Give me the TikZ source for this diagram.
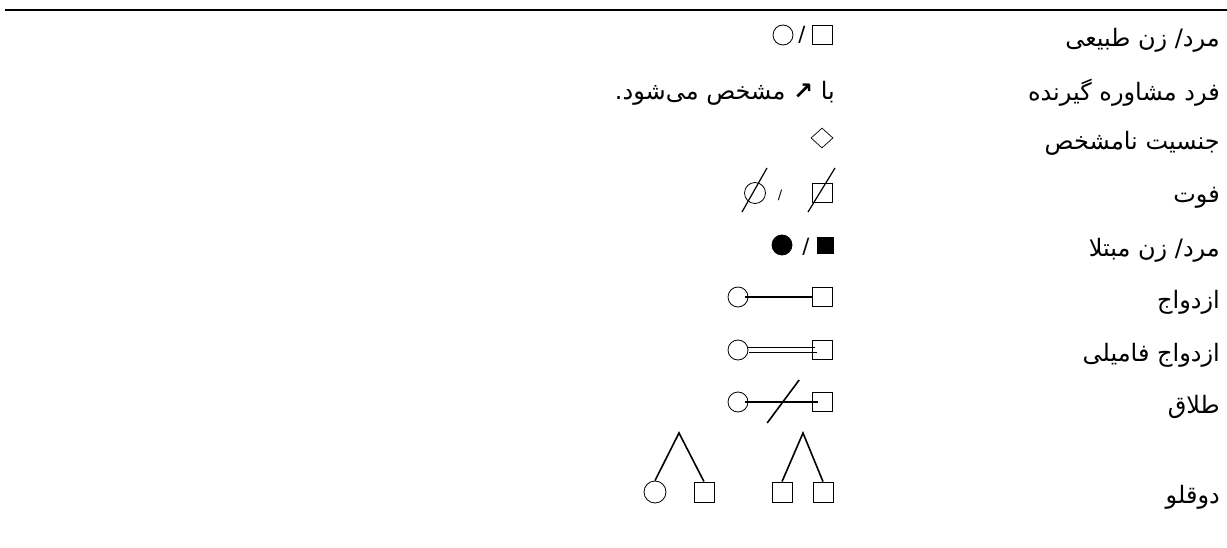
\documentclass[tikz,border=0pt]{standalone}
\usepackage{fontspec}
\usetikzlibrary{shapes.geometric}
\newfontfamily\arabicfont[Script=Arabic]{DejaVu Sans}
\newfontfamily\symfont{DejaVu Sans}
\TeXXeTstate=1

\tikzset{
  lbl/.style={anchor=east,inner sep=0pt,font=\arabicfont\fontsize{24}{28}\selectfont},
  sep/.style={inner sep=0pt,font=\symfont\fontsize{21}{25}\selectfont},
  fem/.style={draw,circle,minimum size=20,inner sep=0pt,line width=0.8pt},
  mal/.style={draw,rectangle,minimum width=20,minimum height=19,inner sep=0pt,line width=0.8pt},
  unk/.style={draw,diamond,minimum width=22,minimum height=20,inner sep=0pt,line width=0.7pt},
  link/.style={line width=1.6pt},
}

\begin{document}
\begin{tikzpicture}[x=1pt,y=-1pt]
\useasboundingbox (0,0) rectangle (1227,548);
\draw[line width=2.2pt] (5,10)--(1227,10);
\foreach \y/\t [count=\i] in {35/{مرد/ زن طبیعی},88/{فرد مشاوره گیرنده},138/{جنسیت نامشخص},193/{فوت},245/{مرد/ زن مبتلا},297/{ازدواج},350/{ازدواج فامیلی},402/{طلاق},492/{دوقلو}}
  {\node[lbl] (lbl\i) at (1220,\y+5){\beginR\t\endR};}
% natural, proband, unknown
\node[fem] (f1) at (783,35){}; \node[sep] (s1) at (802,35){/}; \node[mal] (m1) at (822,35){};
\node[lbl] (prb) at (835,93){\beginR با {\bfseries ↗} مشخص می‌شود.\endR};
\node[unk] (u3) at (822,138){};
% deceased, affected
\node[fem,minimum size=21] (f4) at (755,193){}; \node[sep,font=\symfont\fontsize{13}{15}\selectfont] (s4) at (780,195){/}; \node[mal] (m4) at (822,193){};
\draw[link,line width=1.2pt] ([shift={(-13,19)}]f4.center)--([shift={(12,-25)}]f4.center);
\draw[link,line width=1.2pt] ([shift={(-14,19)}]m4.center)--([shift={(13,-25)}]m4.center);
\node[fem,fill] (f5) at (782,245){}; \node[sep] (s5) at (806,247){/}; \node[mal,fill,minimum width=16,minimum height=16] (m5) at (825,245){};
% unions
\node[fem] (f6) at (738,297){}; \node[mal] (m6) at (822,297){};
\draw[link] ([xshift=-3]f6.east)--(m6.west);
\node[fem] (f7) at (738,350){}; \node[mal] (m7) at (822,350){};
\draw[link] ([shift={(0,-2.5)}]f7.east)--([shift={(3,-2.5)}]m7.west);
\draw[link] ([shift={(1,2.5)}]f7.east)--([shift={(5,2.5)}]m7.west);
\node[fem] (f8) at (738,402){}; \node[mal] (m8) at (822,402){};
\draw[link] ([xshift=-3]f8.east)--([xshift=6]m8.west);
\path (f8)--(m8) coordinate[pos=0.55] (d8);
\draw[link] ([shift={(-16,21)}]d8)--([shift={(16,-22)}]d8);
% twins
\coordinate (a1) at (679,433); \coordinate (a2) at (803,433);
\node[fem,minimum size=22] (t1) at (655,492){}; \node[mal,minimum height=20] (t2) at (704,492){};
\node[mal,minimum height=20] (t3) at (782,492){}; \node[mal,minimum height=20] (t4) at (823,492){};
\draw[link] (t1.north)--(a1)--(t2.north);
\draw[link] (t3.north)--(a2)--(t4.north);
\end{tikzpicture}
\end{document}
